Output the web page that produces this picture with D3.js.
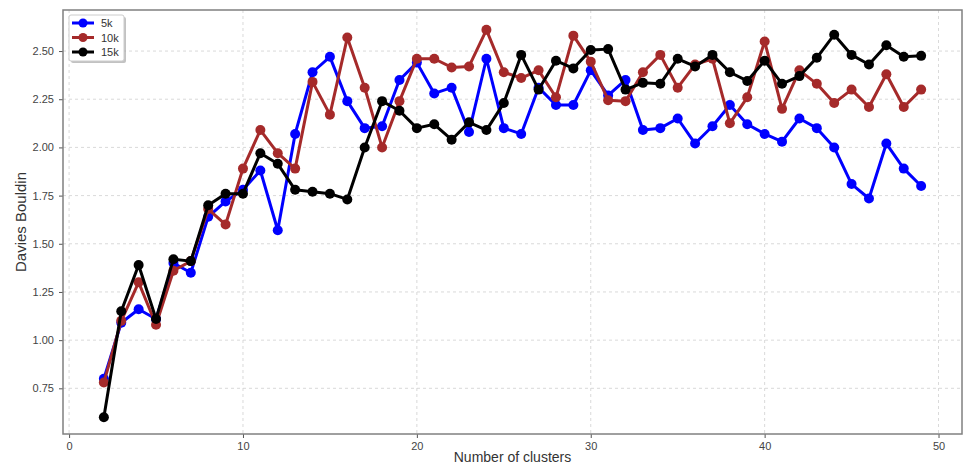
<!DOCTYPE html>
<html>
<head>
<meta charset="utf-8">
<script src="https://cdn.jsdelivr.net/npm/d3@7"></script>
<style>
  body { margin: 0; background: #fff; }
  text { font-family: "Liberation Sans", Arial, sans-serif; }
</style>
</head>
<body>
<div id="chart"></div>
<script>
// Number of clusters (x values)
const clusters = d3.range(2, 50);

// Davies Bouldin scores, one per cluster count
const score5k = [0.80, 1.09, 1.16, 1.11, 1.40, 1.35, 1.64, 1.72, 1.78, 1.88,
    1.57, 2.07, 2.39, 2.47, 2.24, 2.10, 2.11, 2.35, 2.44, 2.28,
    2.31, 2.08, 2.46, 2.10, 2.07, 2.31, 2.22, 2.22, 2.40, 2.27,
    2.35, 2.09, 2.10, 2.15, 2.02, 2.11, 2.22, 2.12, 2.07, 2.03,
    2.15, 2.10, 2.00, 1.81, 1.735, 2.02, 1.89, 1.80];
const score10k = [0.78, 1.10, 1.30, 1.08, 1.36, 1.41, 1.68, 1.60, 1.89, 2.09,
    1.97, 1.89, 2.34, 2.17, 2.57, 2.31, 2.00, 2.24, 2.46, 2.46,
    2.415, 2.42, 2.61, 2.39, 2.36, 2.40, 2.26, 2.58, 2.445, 2.245,
    2.24, 2.39, 2.48, 2.31, 2.43, 2.46, 2.125, 2.26, 2.55, 2.20,
    2.40, 2.33, 2.23, 2.30, 2.21, 2.38, 2.21, 2.30];
const score15k = [0.60, 1.15, 1.39, 1.11, 1.42, 1.41, 1.70, 1.76, 1.76, 1.97,
    1.915, 1.78, 1.77, 1.76, 1.73, 2.00, 2.24, 2.19, 2.10, 2.12,
    2.04, 2.13, 2.09, 2.23, 2.48, 2.30, 2.45, 2.41, 2.505, 2.51,
    2.30, 2.335, 2.33, 2.46, 2.42, 2.48, 2.39, 2.345, 2.45, 2.33,
    2.37, 2.465, 2.585, 2.48, 2.43, 2.53, 2.47, 2.475];

const seriesNames = ["5k", "10k", "15k"];
const seriesColors = ["#0000ff", "#a52a2a", "#000000"];
const seriesValues = [score5k, score10k, score15k];

const xTicks = [0, 10, 20, 30, 40, 50];
const yTicks = [0.75, 1.00, 1.25, 1.50, 1.75, 2.00, 2.25, 2.50];

const width = 964, height = 467;
const margin = {top: 10, right: 2, bottom: 33, left: 63};
const innerW = width - margin.left - margin.right;
const innerH = height - margin.top - margin.bottom;

const svg = d3.select("#chart").append("svg")
    .attr("width", width)
    .attr("height", height);

const g = svg.append("g")
    .attr("transform", `translate(${margin.left},${margin.top})`);

// matplotlib style 5% padding on both axes
const x = d3.scaleLinear().domain([-0.35, 51.35]).range([0, innerW]);
const y = d3.scaleLinear().domain([0.513, 2.713]).range([innerH, 0]);

// Grid lines
g.append("g").selectAll("line")
    .data(xTicks.filter(t => x(t) <= innerW))
    .enter().append("line")
    .attr("x1", d => x(d)).attr("x2", d => x(d))
    .attr("y1", 0).attr("y2", innerH)
    .style("stroke", "#cfcfcf")
    .style("stroke-width", 0.8)
    .style("stroke-dasharray", "3,3");

g.append("g").selectAll("line")
    .data(yTicks)
    .enter().append("line")
    .attr("x1", 0).attr("x2", innerW)
    .attr("y1", d => y(d)).attr("y2", d => y(d))
    .style("stroke", "#cfcfcf")
    .style("stroke-width", 0.8)
    .style("stroke-dasharray", "3,3");

// Axes
const xAxis = g.append("g")
    .attr("transform", `translate(0,${innerH})`)
    .call(d3.axisBottom(x).tickValues(xTicks).tickFormat(d3.format("d")).tickSize(4).tickPadding(4));

const yAxis = g.append("g")
    .call(d3.axisLeft(y).tickValues(yTicks).tickFormat(d3.format(".2f")).tickSize(4).tickPadding(5));

[xAxis, yAxis].forEach(ax => {
    ax.select(".domain").remove();
    ax.selectAll("line").style("stroke", "#555");
    ax.selectAll("text")
        .style("font-size", "11px")
        .style("fill", "#444");
});

// Frame around the plot area
g.append("rect")
    .attr("x", 0).attr("y", 0)
    .attr("width", innerW).attr("height", innerH)
    .style("fill", "none")
    .style("stroke", "#808080")
    .style("stroke-width", 1.5);

// Lines and markers
const line = d3.line()
    .x((d, i) => x(clusters[i]))
    .y(d => y(d));

seriesValues.forEach((vals, s) => {
    g.append("path")
        .datum(vals)
        .attr("d", line)
        .style("fill", "none")
        .style("stroke", seriesColors[s])
        .style("stroke-width", 3)
        .style("stroke-linejoin", "round");

    g.append("g").selectAll("circle")
        .data(vals)
        .enter().append("circle")
        .attr("cx", (d, i) => x(clusters[i]))
        .attr("cy", d => y(d))
        .attr("r", 5)
        .style("fill", seriesColors[s]);
});

// Axis labels
svg.append("text")
    .attr("x", margin.left + innerW / 2)
    .attr("y", 462)
    .attr("text-anchor", "middle")
    .style("font-size", "14px")
    .style("fill", "#333")
    .text("Number of clusters");

svg.append("text")
    .attr("transform", `translate(26,${margin.top + innerH / 2}) rotate(-90)`)
    .attr("text-anchor", "middle")
    .style("font-size", "15px")
    .style("fill", "#333")
    .text("Davies Bouldin");

// Legend
const legend = g.append("g")
    .attr("transform", "translate(6,5)");

legend.append("rect")
    .attr("x", 2).attr("y", 2)
    .attr("width", 55).attr("height", 46)
    .attr("rx", 2)
    .style("fill", "#999")
    .style("opacity", 0.6);

legend.append("rect")
    .attr("width", 55).attr("height", 46)
    .attr("rx", 2)
    .style("fill", "#fff")
    .style("stroke", "#ccc")
    .style("stroke-width", 1);

seriesNames.forEach((name, i) => {
    const item = legend.append("g")
        .attr("transform", `translate(0, ${8 + i * 14.5})`);

    item.append("line")
        .attr("x1", 3).attr("x2", 25)
        .attr("y1", 0).attr("y2", 0)
        .style("stroke", seriesColors[i])
        .style("stroke-width", 3);

    item.append("circle")
        .attr("cx", 14).attr("cy", 0).attr("r", 4.5)
        .style("fill", seriesColors[i]);

    item.append("text")
        .attr("x", 32).attr("y", 4)
        .text(name)
        .style("font-size", "11px")
        .style("fill", "#333");
});
</script>
</body>
</html>
